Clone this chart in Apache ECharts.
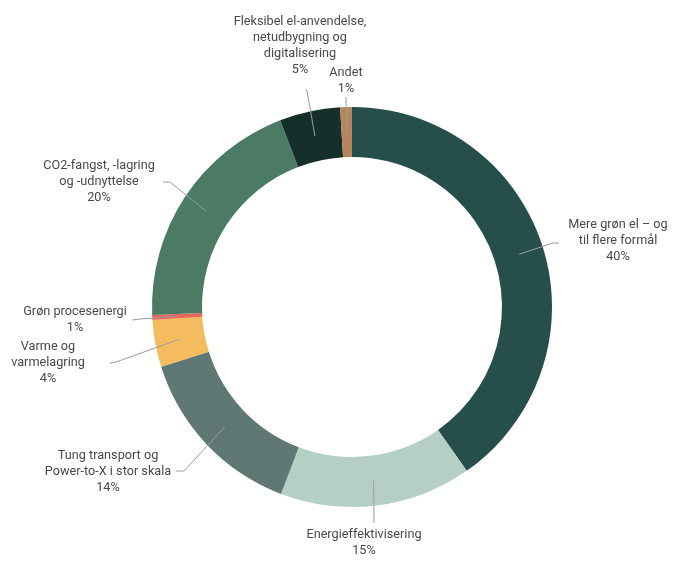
<!DOCTYPE html>
<html><head><meta charset="utf-8">
<script src="https://cdn.jsdelivr.net/npm/echarts@6/dist/echarts.min.js"></script>
<style>html,body{margin:0;padding:0;background:#fff}#c{width:680px;height:568px}</style>
</head><body><div id="c"></div>
<script>
const categories = [
  'Mere grøn el – og\ntil flere formål',
  'Energieffektivisering',
  'Tung transport og\nPower-to-X i stor skala',
  'Varme og\nvarmelagring',
  'Grøn procesenergi',
  'CO2-fangst, -lagring\nog -udnyttelse',
  'Fleksibel el-anvendelse,\nnetudbygning og\ndigitalisering',
  'Andet'
];
const shareValues = [40.3, 15.5, 14.4, 3.8, 0.4, 19.8, 4.9, 0.95];
const shareLabels = ['40%', '15%', '14%', '4%', '1%', '20%', '5%', '1%'];
const sliceColors = ['#264f4c', '#b6cfc4', '#5f7874', '#f4bc5f', '#e8665a', '#4b7a65', '#15302b', '#b8845b'];
const labelAnchors = [[618,241],[364,543],[108,472],[48,363],[75,320],[99,182],[300,46],[346,81]];
const labelLineBends = [
  [[553,243],[559,243]],
  [[374,521],[374,523]],
  [[184,471],[176,471]],
  [[116,362],[110,363]],
  [[140,319],[132,320]],
  [[170,182],[163,182]],
  [[307,91],[306,89]],
  [[346,99],[346,97]]
];

const chart = echarts.init(document.getElementById('c'), null, {renderer: 'canvas'});
const ringData = categories.map((n, i) => ({name: n, value: shareValues[i], itemStyle: {color: sliceColors[i]}}));
const labelData = categories.map((n, i) => ({name: n, value: shareValues[i]}));

chart.setOption({
  animation: false,
  backgroundColor: '#ffffff',
  series: [
    {
      type: 'pie',
      center: [352, 307],
      radius: [150, 200],
      startAngle: 90,
      clockwise: true,
      silent: true,
      label: {show: false},
      labelLine: {show: false},
      itemStyle: {borderWidth: 0},
      data: ringData,
      z: 1
    },
    {
      type: 'pie',
      center: [352, 307],
      radius: [0, 175],
      startAngle: 90,
      clockwise: true,
      silent: true,
      z: 5,
      itemStyle: {color: 'rgba(0,0,0,0)', borderWidth: 0},
      label: {
        show: true,
        position: 'outside',
        formatter: p => p.name + '\n' + shareLabels[p.dataIndex],
        fontFamily: 'Roboto, "Liberation Sans", sans-serif',
        fontSize: 12.7,
        lineHeight: 16,
        color: '#484848',
        align: 'center'
      },
      labelLine: {show: true, length: 10, length2: 10, lineStyle: {color: '#9c9c9c', width: 1}},
      labelLayout: function (params) {
        const i = params.dataIndex;
        const start = params.labelLinePoints ? params.labelLinePoints[0] : labelLineBends[i][0];
        return {
          x: labelAnchors[i][0],
          y: labelAnchors[i][1],
          align: 'center',
          verticalAlign: 'middle',
          labelLinePoints: [start, labelLineBends[i][0], labelLineBends[i][1]]
        };
      },
      data: labelData
    }
  ]
});
</script>
</body></html>
